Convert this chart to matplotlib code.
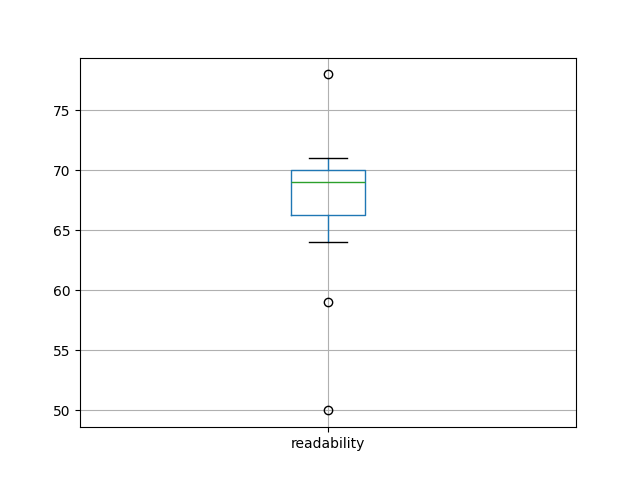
import matplotlib
matplotlib.use("Agg")
import matplotlib.pyplot as plt
import pandas as pd

# readability scores (sorted)
readability = [50, 59, 64, 66, 67, 68, 69, 69, 70, 70, 70, 71, 71, 78]

df = pd.DataFrame({"readability": readability})

fig, ax = plt.subplots(figsize=(6.4, 4.8), dpi=100)
df.boxplot(column="readability", ax=ax)

fig.savefig("out.png")
plt.close(fig)
